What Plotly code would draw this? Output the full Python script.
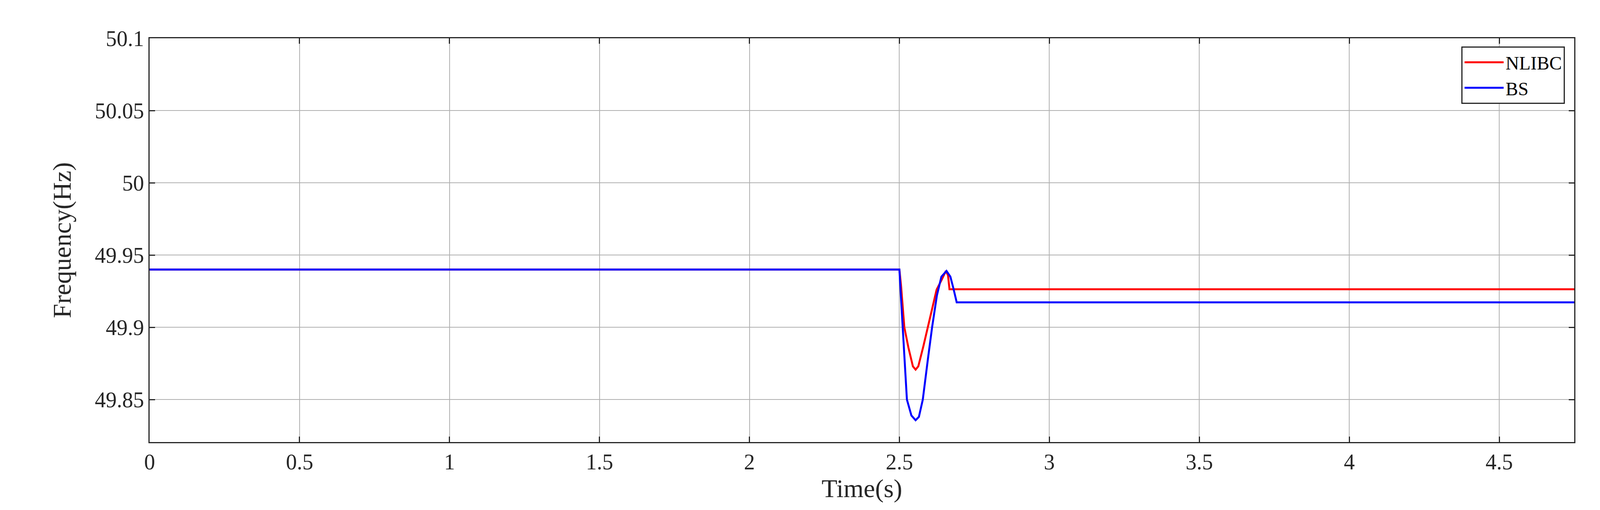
import plotly.graph_objects as go

# Time (s) / frequency (Hz)
t_nlibc = [0, 2.5, 2.505, 2.5165, 2.53, 2.545, 2.554, 2.563, 2.58, 2.595, 2.61, 2.624, 2.64,
           2.655, 2.662, 2.667, 4.75]
f_nlibc = [49.940, 49.940, 49.930, 49.900, 49.886, 49.873, 49.8707, 49.873, 49.887, 49.900,
           49.914, 49.926, 49.9325, 49.939, 49.936, 49.9263, 49.9263]

t_bs = [0, 2.5, 2.504, 2.511, 2.525, 2.54, 2.554, 2.565, 2.578, 2.595, 2.609, 2.625, 2.64,
        2.657, 2.67, 2.68, 2.691, 4.75]
f_bs = [49.940, 49.940, 49.925, 49.900, 49.850, 49.839, 49.8357, 49.838, 49.850, 49.878,
        49.900, 49.922, 49.935, 49.939, 49.935, 49.927, 49.9173, 49.9173]

x_ticks = [0, 0.5, 1, 1.5, 2, 2.5, 3, 3.5, 4, 4.5]
y_ticks = [49.85, 49.9, 49.95, 50, 50.05, 50.1]
y_labels = ["49.85", "49.9", "49.95", "50", "50.05", "50.1"]

font = "Liberation Serif"

fig = go.Figure()
fig.add_trace(go.Scatter(x=t_nlibc, y=f_nlibc, name="NLIBC", mode="lines",
                         line=dict(color="#ff0000", width=5)))
fig.add_trace(go.Scatter(x=t_bs, y=f_bs, name="BS", mode="lines",
                         line=dict(color="#0000ff", width=5)))

axis_style = dict(
    showgrid=True, gridcolor="#b0b0b0", gridwidth=2,
    showline=True, linecolor="#262626", linewidth=3, mirror="ticks",
    ticks="inside", ticklen=14, tickwidth=3, tickcolor="#262626",
    zeroline=False, tickfont=dict(family=font, size=56, color="#262626"),
)
fig.update_xaxes(range=[0, 4.75], tickvals=x_ticks, **axis_style,
                 title=dict(text="Time(s)", font=dict(family=font, size=66, color="#262626"),
                            standoff=0))
fig.update_yaxes(range=[49.8206, 50.1], tickvals=y_ticks, ticktext=y_labels, **axis_style,
                 title=dict(text="Frequency(Hz)", font=dict(family=font, size=66, color="#262626"),
                            standoff=40))
fig.update_layout(
    autosize=True,
    margin=dict(l=375, r=58, t=90, b=182),
    plot_bgcolor="white", paper_bgcolor="white",
    legend=dict(x=0.9935, y=0.98, xanchor="right", yanchor="top",
                bgcolor="white", bordercolor="#262626", borderwidth=3,
                font=dict(family=font, size=48, color="black"),
                itemwidth=100, tracegroupgap=20),
)
fig.write_html("out.html", config=dict(responsive=True), default_height="100vh",
               default_width="100%")
